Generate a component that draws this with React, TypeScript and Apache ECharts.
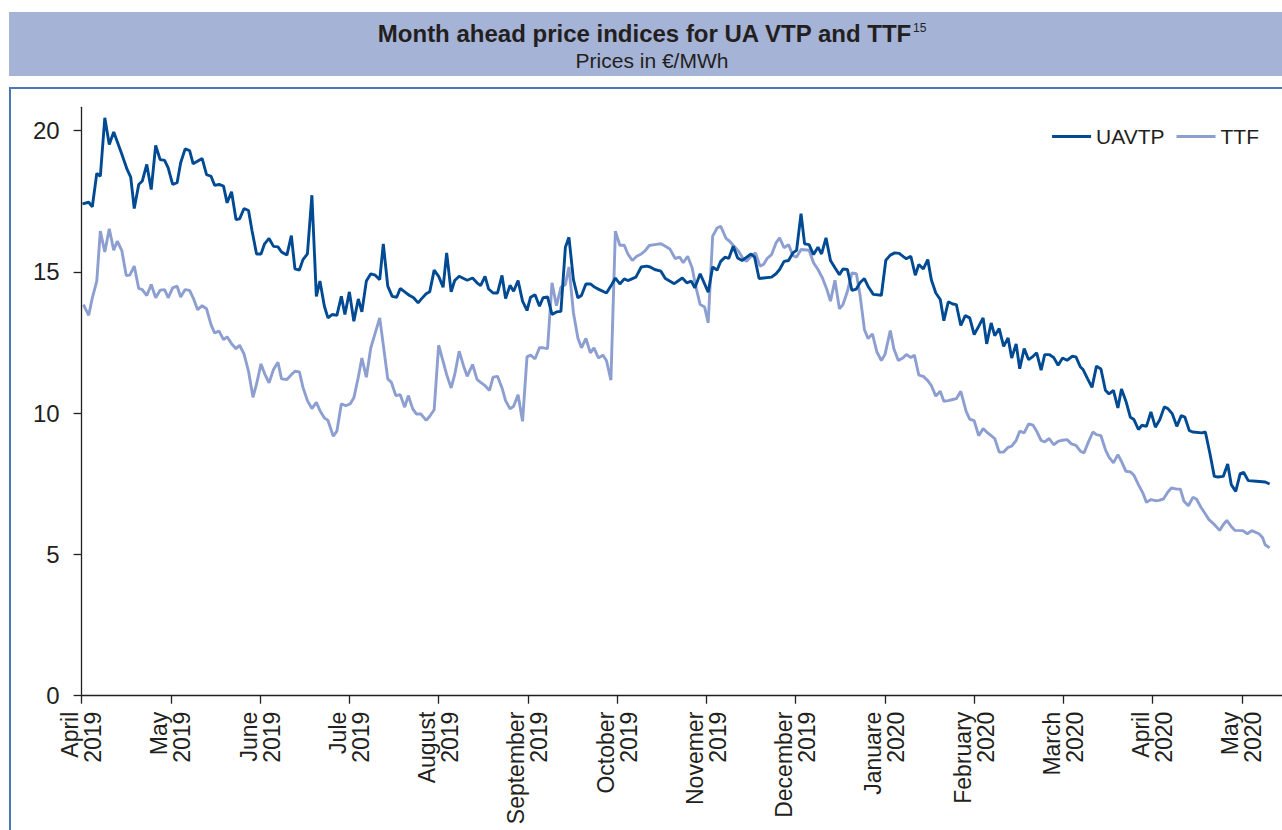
import React, { useEffect, useRef } from "react";
import * as echarts from "echarts";

// x positions are month indices: 0 = April 2019, 1 = May 2019, ... 13 = May 2020
const monthLabels = [
  "April\n2019", "May\n2019", "June\n2019", "Jule\n2019", "August\n2019", "September\n2019",
  "October\n2019", "Novemer\n2019", "December\n2019", "Januare\n2020", "February\n2020",
  "March\n2020", "April\n2020", "May\n2020",
];
const monthTicks = [0, 1, 2, 3, 4, 5, 6, 7, 8, 9, 10, 11, 12, 13];
const yTicks = [0, 5, 10, 15, 20];

const uavtp: [number, number][] = [
  [0.01, 17.4], [0.08, 17.46], [0.12, 17.3], [0.17, 18.48], [0.21, 18.38], [0.26, 20.45], [0.31, 19.5], [0.36, 19.95],
  [0.45, 19.17], [0.51, 18.62], [0.55, 18.35], [0.59, 17.24], [0.64, 18.09], [0.68, 18.21], [0.73, 18.8], [0.78, 17.91],
  [0.83, 19.47], [0.88, 18.97], [0.93, 18.94], [0.97, 18.68], [1.02, 18.09], [1.07, 18.15], [1.11, 18.86], [1.16, 19.35],
  [1.21, 19.29], [1.25, 18.82], [1.35, 19.01], [1.4, 18.44], [1.45, 18.38], [1.49, 18.06], [1.54, 18.09], [1.59, 18.03],
  [1.63, 17.44], [1.68, 17.83], [1.73, 16.85], [1.77, 16.87], [1.82, 17.24], [1.87, 17.17], [1.91, 16.44], [1.96, 15.63],
  [2.01, 15.63], [2.05, 15.99], [2.1, 16.18], [2.15, 15.9], [2.2, 15.88], [2.24, 15.7], [2.3, 15.59], [2.35, 16.28],
  [2.39, 15.1], [2.44, 15.06], [2.48, 15.43], [2.53, 15.63], [2.58, 17.71], [2.63, 14.13], [2.67, 14.67], [2.72, 13.78],
  [2.76, 13.37], [2.81, 13.49], [2.86, 13.46], [2.91, 14.13], [2.95, 13.49], [3.0, 14.29], [3.05, 13.25], [3.1, 14.04],
  [3.14, 13.58], [3.19, 14.67], [3.24, 14.93], [3.29, 14.88], [3.34, 14.72], [3.38, 15.99], [3.43, 14.49], [3.48, 14.13],
  [3.53, 14.1], [3.57, 14.41], [3.62, 14.29], [3.67, 14.17], [3.72, 14.08], [3.77, 13.9], [3.81, 14.05], [3.86, 14.22],
  [3.9, 14.29], [3.95, 15.06], [4.0, 14.84], [4.05, 14.45], [4.09, 15.67], [4.14, 14.29], [4.18, 14.69], [4.23, 14.84],
  [4.28, 14.76], [4.32, 14.7], [4.38, 14.78], [4.43, 14.61], [4.47, 14.51], [4.52, 14.84], [4.56, 14.39], [4.61, 14.25],
  [4.66, 14.25], [4.71, 14.87], [4.75, 14.05], [4.8, 14.52], [4.84, 14.31], [4.89, 14.69], [4.94, 13.96], [4.99, 13.63],
  [5.03, 14.1], [5.08, 14.19], [5.13, 13.78], [5.17, 14.08], [5.22, 14.11], [5.27, 13.49], [5.32, 13.58], [5.37, 13.6],
  [5.42, 15.87], [5.46, 16.22], [5.51, 14.72], [5.56, 14.08], [5.6, 14.16], [5.65, 14.57], [5.7, 14.57], [5.75, 14.45],
  [5.8, 14.37], [5.88, 14.25], [5.94, 14.55], [5.98, 14.78], [6.03, 14.57], [6.08, 14.75], [6.12, 14.69], [6.21, 14.81],
  [6.27, 15.17], [6.33, 15.2], [6.37, 15.17], [6.42, 15.08], [6.49, 15.02], [6.54, 14.76], [6.64, 14.58], [6.73, 14.78],
  [6.78, 14.61], [6.83, 14.67], [6.87, 14.43], [6.93, 14.93], [7.02, 14.28], [7.07, 15.17], [7.12, 15.06], [7.16, 15.37],
  [7.21, 15.52], [7.25, 15.47], [7.3, 15.9], [7.35, 15.49], [7.4, 15.4], [7.44, 15.49], [7.5, 15.63], [7.54, 15.52],
  [7.59, 14.76], [7.64, 14.78], [7.73, 14.81], [7.78, 14.93], [7.82, 15.08], [7.87, 15.37], [7.92, 15.4], [7.97, 15.67],
  [8.01, 15.76], [8.06, 17.06], [8.1, 15.99], [8.15, 15.96], [8.2, 15.61], [8.25, 15.87], [8.29, 15.63], [8.34, 16.2],
  [8.39, 15.4], [8.44, 15.14], [8.49, 14.9], [8.53, 15.1], [8.58, 15.08], [8.63, 14.34], [8.68, 14.39], [8.72, 14.61],
  [8.77, 14.76], [8.81, 14.49], [8.87, 14.2], [8.96, 14.17], [9.01, 15.41], [9.06, 15.59], [9.11, 15.67], [9.16, 15.65],
  [9.21, 15.53], [9.24, 15.46], [9.29, 15.55], [9.34, 14.88], [9.38, 15.26], [9.43, 15.1], [9.48, 15.43], [9.52, 14.72],
  [9.57, 14.25], [9.62, 14.02], [9.66, 13.27], [9.71, 13.94], [9.76, 13.86], [9.8, 13.84], [9.85, 13.1], [9.9, 13.45],
  [9.95, 13.37], [10.0, 12.78], [10.05, 13.07], [10.1, 13.37], [10.14, 12.45], [10.19, 13.19], [10.23, 12.74], [10.28, 12.99],
  [10.33, 12.36], [10.38, 12.66], [10.42, 11.95], [10.47, 12.45], [10.51, 11.57], [10.56, 12.28], [10.61, 11.89], [10.66, 12.01],
  [10.7, 12.13], [10.75, 11.52], [10.79, 12.07], [10.84, 12.07], [10.89, 11.97], [10.94, 11.69], [10.99, 11.95], [11.04, 11.87],
  [11.1, 12.01], [11.14, 11.99], [11.19, 11.63], [11.22, 11.54], [11.27, 11.22], [11.32, 10.91], [11.37, 11.66], [11.42, 11.56],
  [11.47, 10.81], [11.51, 10.68], [11.56, 10.8], [11.61, 10.18], [11.65, 10.85], [11.7, 10.42], [11.75, 9.85], [11.79, 9.77],
  [11.84, 9.42], [11.88, 9.57], [11.93, 9.53], [11.98, 10.04], [12.03, 9.5], [12.08, 9.77], [12.13, 10.22], [12.17, 10.16],
  [12.22, 9.97], [12.27, 9.53], [12.32, 9.91], [12.36, 9.86], [12.41, 9.38], [12.45, 9.33], [12.55, 9.3], [12.59, 9.33],
  [12.64, 8.59], [12.69, 7.76], [12.73, 7.74], [12.79, 7.76], [12.84, 8.2], [12.88, 7.47], [12.93, 7.23], [12.98, 7.86],
  [13.02, 7.9], [13.07, 7.61], [13.16, 7.59], [13.26, 7.56], [13.31, 7.49],
];

const ttf: [number, number][] = [
  [0.02, 13.84], [0.08, 13.46], [0.12, 14.08], [0.17, 14.67], [0.21, 16.44], [0.26, 15.7], [0.31, 16.52], [0.36, 15.76],
  [0.4, 16.08], [0.45, 15.76], [0.5, 14.87], [0.54, 14.88], [0.59, 15.2], [0.64, 14.41], [0.68, 14.37], [0.73, 14.16],
  [0.78, 14.55], [0.83, 14.08], [0.88, 14.35], [0.93, 14.37], [0.97, 14.08], [1.02, 14.43], [1.07, 14.49], [1.11, 14.11],
  [1.16, 14.37], [1.21, 14.34], [1.25, 14.08], [1.3, 13.66], [1.35, 13.8], [1.4, 13.69], [1.45, 13.13], [1.49, 12.84],
  [1.54, 12.9], [1.59, 12.6], [1.63, 12.7], [1.68, 12.45], [1.73, 12.28], [1.77, 12.4], [1.82, 12.09], [1.87, 11.48],
  [1.92, 10.56], [1.96, 11.03], [2.01, 11.74], [2.05, 11.4], [2.1, 11.07], [2.15, 11.54], [2.2, 11.8], [2.24, 11.21],
  [2.3, 11.19], [2.35, 11.36], [2.39, 11.48], [2.44, 11.46], [2.48, 10.91], [2.53, 10.44], [2.58, 10.16], [2.63, 10.38],
  [2.67, 10.09], [2.72, 9.83], [2.76, 9.74], [2.82, 9.18], [2.86, 9.36], [2.91, 10.33], [2.96, 10.26], [3.01, 10.33],
  [3.05, 10.54], [3.1, 11.27], [3.14, 11.95], [3.19, 11.27], [3.24, 12.31], [3.29, 12.84], [3.34, 13.37], [3.43, 11.21],
  [3.47, 11.09], [3.52, 10.62], [3.57, 10.65], [3.62, 10.21], [3.66, 10.62], [3.71, 10.15], [3.75, 9.97], [3.8, 9.97],
  [3.86, 9.74], [3.9, 9.89], [3.95, 10.12], [4.0, 12.4], [4.05, 11.83], [4.09, 11.36], [4.14, 10.89], [4.18, 11.36],
  [4.23, 12.19], [4.28, 11.66], [4.32, 11.3], [4.38, 11.72], [4.43, 11.19], [4.47, 11.09], [4.52, 10.97], [4.57, 10.8],
  [4.61, 11.27], [4.66, 11.3], [4.71, 10.89], [4.75, 10.44], [4.8, 10.15], [4.84, 10.24], [4.89, 10.65], [4.94, 9.71],
  [4.99, 11.99], [5.03, 12.05], [5.08, 11.92], [5.13, 12.31], [5.17, 12.31], [5.22, 12.28], [5.27, 14.61], [5.32, 13.8],
  [5.37, 14.45], [5.42, 14.55], [5.46, 15.17], [5.51, 13.55], [5.56, 12.66], [5.6, 12.31], [5.65, 12.64], [5.7, 12.13],
  [5.74, 12.31], [5.79, 11.95], [5.84, 12.05], [5.88, 11.86], [5.93, 11.16], [5.98, 16.44], [6.03, 15.94], [6.08, 15.94],
  [6.12, 15.63], [6.17, 15.4], [6.22, 15.55], [6.27, 15.63], [6.31, 15.73], [6.36, 15.93], [6.42, 15.96], [6.49, 15.99],
  [6.54, 15.9], [6.59, 15.81], [6.65, 15.47], [6.7, 15.52], [6.74, 15.32], [6.79, 15.55], [6.84, 15.14], [6.88, 14.49],
  [6.93, 13.84], [6.98, 13.75], [7.02, 13.19], [7.07, 16.26], [7.12, 16.55], [7.16, 16.61], [7.22, 16.18], [7.26, 16.08],
  [7.31, 15.9], [7.36, 15.73], [7.41, 15.47], [7.45, 15.37], [7.5, 15.55], [7.55, 15.67], [7.6, 15.2], [7.64, 15.26],
  [7.68, 15.47], [7.73, 15.61], [7.78, 16.02], [7.82, 16.2], [7.87, 15.85], [7.92, 15.96], [7.97, 15.57], [8.01, 15.52],
  [8.06, 15.79], [8.15, 15.76], [8.2, 15.32], [8.25, 15.08], [8.3, 14.78], [8.35, 14.37], [8.39, 13.96], [8.44, 14.7],
  [8.49, 13.69], [8.53, 13.84], [8.58, 14.31], [8.63, 14.96], [8.68, 14.93], [8.72, 14.2], [8.77, 12.96], [8.81, 12.64],
  [8.86, 12.8], [8.91, 12.16], [8.96, 11.86], [9.0, 12.07], [9.06, 12.92], [9.1, 12.28], [9.15, 11.86], [9.2, 11.95],
  [9.24, 12.07], [9.29, 11.97], [9.33, 12.05], [9.38, 11.34], [9.43, 11.3], [9.48, 11.15], [9.52, 10.97], [9.57, 10.6],
  [9.62, 10.77], [9.66, 10.42], [9.71, 10.44], [9.76, 10.48], [9.8, 10.51], [9.85, 10.77], [9.91, 10.06], [9.95, 9.79],
  [10.0, 9.73], [10.05, 9.2], [10.1, 9.45], [10.14, 9.33], [10.19, 9.2], [10.23, 9.1], [10.28, 8.62], [10.33, 8.62],
  [10.38, 8.79], [10.42, 8.83], [10.47, 9.03], [10.51, 9.36], [10.56, 9.3], [10.61, 9.62], [10.66, 9.57], [10.7, 9.36],
  [10.75, 9.03], [10.79, 8.98], [10.84, 9.1], [10.89, 8.88], [10.94, 9.0], [10.99, 9.04], [11.04, 9.06], [11.09, 8.91],
  [11.14, 8.86], [11.19, 8.65], [11.23, 8.59], [11.28, 8.98], [11.33, 9.33], [11.37, 9.24], [11.42, 9.2], [11.47, 8.71],
  [11.51, 8.44], [11.56, 8.24], [11.61, 8.53], [11.65, 8.29], [11.7, 7.94], [11.75, 7.92], [11.79, 7.8], [11.84, 7.47],
  [11.89, 7.17], [11.93, 6.84], [11.98, 6.94], [12.03, 6.9], [12.07, 6.91], [12.12, 6.96], [12.17, 7.21], [12.21, 7.35],
  [12.27, 7.31], [12.31, 7.31], [12.35, 6.88], [12.4, 6.72], [12.45, 7.02], [12.49, 6.96], [12.54, 6.67], [12.59, 6.43],
  [12.63, 6.23], [12.68, 6.09], [12.75, 5.85], [12.79, 6.05], [12.83, 6.2], [12.88, 5.99], [12.92, 5.85], [13.01, 5.84],
  [13.06, 5.73], [13.11, 5.84], [13.19, 5.73], [13.23, 5.6], [13.26, 5.34], [13.31, 5.23],
];

const FONT = "'Liberation Sans', Arial, Helvetica, sans-serif";
const INK = "#231f20";
const DARK = "#004a93";
const LIGHT = "#8d9fd0";

export default function App() {
  const ref = useRef<HTMLDivElement>(null);

  useEffect(() => {
    if (!ref.current) return;
    const chart = echarts.init(ref.current, null, { renderer: "svg" });
    chart.setOption({
      animation: false,
      backgroundColor: "#ffffff",
      textStyle: { fontFamily: FONT },
      graphic: [
        {
          type: "rect",
          silent: true,
          z: -10,
          shape: { x: 9, y: 12, width: 1300, height: 64 },
          style: { fill: "#a5b3d6" },
        },
        {
          type: "rect",
          silent: true,
          z: -10,
          shape: { x: 10, y: 88, width: 1300, height: 800 },
          style: { fill: "none", stroke: "#4a78b4", lineWidth: 2 },
        },
        {
          type: "text",
          silent: true,
          x: 644.5,
          y: 33,
          style: {
            text: "Month ahead price indices for UA VTP and TTF",
            fontFamily: FONT,
            fontSize: 24,
            fontWeight: "bold",
            fill: INK,
            align: "center",
            verticalAlign: "middle",
          },
        },
        {
          type: "text",
          silent: true,
          x: 913,
          y: 22,
          style: {
            text: "15",
            fontFamily: FONT,
            fontSize: 12,
            fill: INK,
            align: "left",
            verticalAlign: "top",
          },
        },
        {
          type: "text",
          silent: true,
          x: 652,
          y: 60,
          style: {
            text: "Prices in €/MWh",
            fontFamily: FONT,
            fontSize: 21,
            fill: INK,
            align: "center",
            verticalAlign: "middle",
          },
        },
      ],
      legend: {
        data: ["UAVTP", "TTF"],
        right: 36,
        top: 121,
        icon: "rect",
        itemWidth: 39,
        itemHeight: 3,
        itemGap: 12,
        textStyle: { fontSize: 21, color: INK, fontFamily: FONT },
      },
      grid: { left: 81.6, top: 107.3, width: 1205, height: 588.4, containLabel: false },
      xAxis: {
        type: "value",
        min: 0,
        max: 13.5,
        interval: 1,
        axisLine: { show: true, onZero: false, lineStyle: { color: INK, width: 1.3 } },
        axisTick: {
          show: true,
          length: 8,
          customValues: monthTicks,
          lineStyle: { color: INK, width: 1.3 },
        },
        axisLabel: {
          customValues: monthTicks,
          rotate: 90,
          margin: 16,
          fontSize: 23,
          lineHeight: 23,
          color: INK,
          fontFamily: FONT,
          formatter: (v: number) => (Number.isInteger(v) && monthLabels[v] ? monthLabels[v] : ""),
        },
        splitLine: { show: false },
      },
      yAxis: {
        type: "value",
        min: 0,
        max: 20.82,
        interval: 5,
        axisLine: { show: true, onZero: false, lineStyle: { color: INK, width: 1.3 } },
        axisTick: {
          show: true,
          length: 8,
          customValues: yTicks,
          lineStyle: { color: INK, width: 1.3 },
        },
        axisLabel: {
          customValues: yTicks,
          margin: 22,
          fontSize: 24,
          color: INK,
          fontFamily: FONT,
          formatter: (v: number) => (Number.isInteger(v) && v % 5 === 0 ? String(v) : ""),
        },
        splitLine: { show: false },
      },
      series: [
        {
          name: "UAVTP",
          type: "line",
          data: uavtp,
          symbol: "none",
          showSymbol: false,
          z: 3,
          lineStyle: { color: DARK, width: 2.9 },
          itemStyle: { color: DARK },
        },
        {
          name: "TTF",
          type: "line",
          data: ttf,
          symbol: "none",
          showSymbol: false,
          z: 2,
          lineStyle: { color: LIGHT, width: 2.9 },
          itemStyle: { color: LIGHT },
        },
      ],
    });
    return () => chart.dispose();
  }, []);

  return (
    <div
      style={{
        position: "fixed",
        left: 0,
        top: 0,
        width: 1282,
        height: 830,
        overflow: "hidden",
        background: "#ffffff",
      }}
    >
      <div ref={ref} style={{ width: 1300, height: 850 }} />
    </div>
  );
}
